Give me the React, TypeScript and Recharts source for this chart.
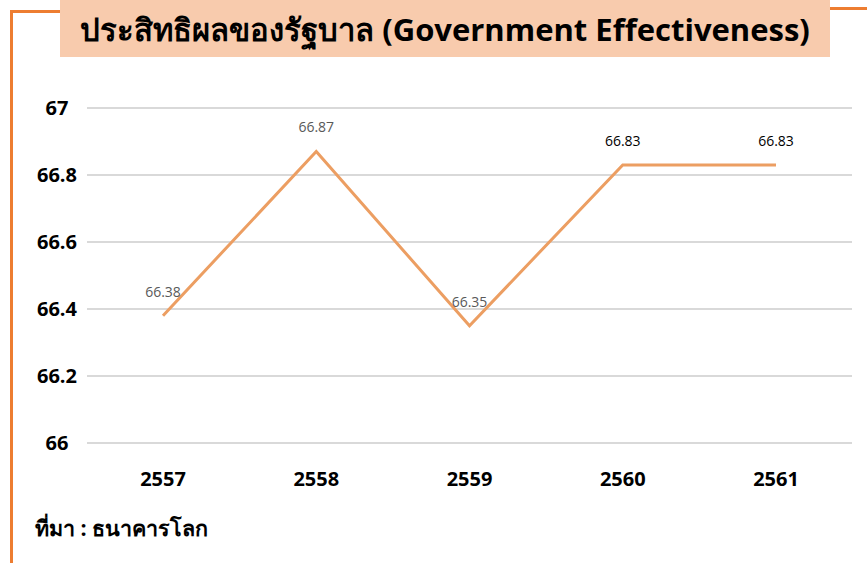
import React from "react";
import { LineChart, Line, XAxis, YAxis, CartesianGrid, LabelList } from "recharts";

// ข้อมูล
const years = ["2557", "2558", "2559", "2560", "2561"];
const scores = [66.38, 66.87, 66.35, 66.83, 66.83];
const yTicks = [66, 66.2, 66.4, 66.6, 66.8, 67];
const labelColors = ["#595959", "#595959", "#595959", "#000000", "#000000"];

const data = years.map((year, i) => ({ year, score: scores[i] }));

const FONT = '"Open Sans", "Noto Sans", "Tahoma", sans-serif';
const ORANGE = "#ED7D31";

const YTick = (props: any) => {
  const { y, payload } = props;
  return (
    <text x={57} y={y} dy="0.35em" textAnchor="middle" fontSize={20} fontWeight={700} fill="#000" fontFamily={FONT}>
      {String(payload.value)}
    </text>
  );
};

const PointLabel = (props: any) => {
  const { x, y, value, index } = props;
  return (
    <text x={x} y={y - 24} dy="0.35em" textAnchor="middle" fontSize={14} fill={labelColors[index] || "#595959"} fontFamily={FONT}>
      {value.toFixed(2)}
    </text>
  );
};

export default function App() {
  return (
    <div style={{ position: "absolute", left: 0, top: 0, width: 867, height: 563, background: "#fff", fontFamily: FONT, overflow: "hidden" }}>
      {/* กรอบสีส้ม */}
      <div style={{ position: "absolute", left: 10, top: 10, width: 3, height: 560, background: ORANGE }} />
      <div style={{ position: "absolute", left: 10, top: 10, width: 52, height: 3, background: ORANGE }} />
      <div style={{ position: "absolute", left: 828, top: 7, width: 39, height: 3, background: ORANGE }} />

      {/* หัวเรื่อง */}
      <div
        style={{
          position: "absolute",
          left: 60,
          top: 0,
          width: 770,
          height: 54,
          background: "#F8CBAD",
          display: "flex",
          alignItems: "center",
          justifyContent: "center",
          fontSize: 31,
          fontWeight: 700,
          color: "#000",
          paddingTop: 3,
        }}
      >
        ประสิทธิผลของรัฐบาล (Government Effectiveness)
      </div>

      <div style={{ position: "absolute", left: 0, top: 0 }}>
        <LineChart width={867} height={563} data={data} margin={{ top: 108, right: 15, left: 7, bottom: 80 }}>
          <CartesianGrid vertical={false} stroke="#d9d9d9" strokeWidth={2} />
          <XAxis
            dataKey="year"
            axisLine={false}
            tickLine={false}
            height={40}
            tickMargin={23}
            padding={{ left: 76, right: 76 }}
            tick={{ fontSize: 20, fontWeight: 700, fill: "#000", fontFamily: FONT }}
          />
          <YAxis
            width={80}
            domain={[66, 67]}
            ticks={yTicks}
            axisLine={false}
            tickLine={false}
            tick={<YTick />}
          />
          <Line type="linear" dataKey="score" stroke="#EC9E62" strokeWidth={3} dot={false} isAnimationActive={false}>
            <LabelList dataKey="score" content={<PointLabel />} />
          </Line>
        </LineChart>
      </div>

      {/* ที่มา */}
      <div style={{ position: "absolute", left: 35, top: 511, fontSize: 21.5, fontWeight: 700, color: "#000" }}>
        ที่มา : ธนาคารโลก
      </div>
    </div>
  );
}
